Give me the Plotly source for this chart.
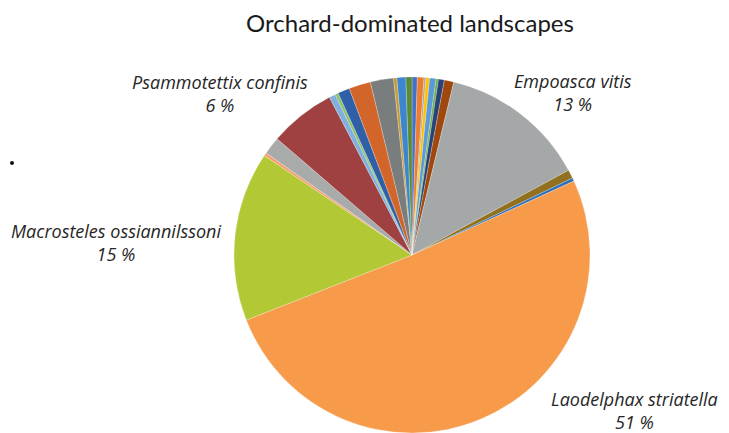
import plotly.graph_objects as go

# ---- data (clockwise from 12 o'clock), percent of individuals ----
species = [
    "Species A", "Species B", "Species C", "Species D", "Species E",
    "Species F", "Species G", "Species H",
    "Empoasca vitis", "Species I", "Species J",
    "Laodelphax striatella", "Macrosteles ossiannilssoni", "Species K",
    "Species L", "Psammotettix confinis", "Species M", "Species N",
    "Species O", "Species P", "Species Q", "Species R", "Species S", "Species T",
]
shares = [
    0.48, 0.60, 0.17, 0.33, 0.58,
    0.22, 0.53, 0.86,
    13.3, 0.78, 0.30,
    50.75, 15.36, 0.28,
    1.60, 6.00, 0.58, 0.28,
    1.08, 1.97, 2.10, 0.30, 0.80, 0.55,
]
colors = [
    "#4472c4", "#ed7d31", "#a5a5a5", "#ffc000", "#5b9bd5",
    "#70ad47", "#264478", "#9e480e",
    "#a5a8a8", "#917020", "#2f70b8",
    "#f79b4b", "#b2c834", "#f4a070",
    "#a9abab", "#9f4141", "#7fb0de", "#8cc168",
    "#2f5fa7", "#d2652a", "#7a7d7d", "#c99a2e", "#3b86cc", "#5a8a39",
]
labelled = ["Psammotettix confinis", "Empoasca vitis",
            "Macrosteles ossiannilssoni", "Laodelphax striatella"]
# label anchor positions (paper fractions, layout only)
label_pos = {
    "Psammotettix confinis": (0.302, 0.784),
    "Empoasca vitis": (0.786, 0.786),
    "Macrosteles ossiannilssoni": (0.159, 0.439),
    "Laodelphax striatella": (0.870, 0.053),
}

W, H = 729, 433
total = sum(shares)

fig = go.Figure(go.Pie(
    labels=species,
    values=shares,
    sort=False,
    direction="clockwise",
    rotation=0,
    marker=dict(colors=colors, line=dict(color="rgba(255,255,255,0.6)", width=0.4)),
    textinfo="none",
    hoverinfo="label+percent",
    domain=dict(x=[0.30, 0.8303], y=[0.0, 1 - 77 / H]),
    showlegend=False,
))

for name in labelled:
    v = shares[species.index(name)]
    x, y = label_pos[name]
    fig.add_annotation(
        x=x, y=y, xref="paper", yref="paper",
        text=f"{name}<br>{round(v / total * 100)} %",
        showarrow=False, align="center",
        xanchor="center", yanchor="middle",
        font=dict(family="Open Sans", size=18, color="#262626", style="italic"),
    )

fig.add_shape(type="circle", xref="paper", yref="paper",
              x0=10 / W, x1=14 / W, y0=1 - 165 / H, y1=1 - 161 / H,
              fillcolor="#111", line=dict(width=0))

fig.update_layout(
    width=W, height=H,
    margin=dict(l=0, r=0, t=0, b=0),
    paper_bgcolor="white", plot_bgcolor="white",
    title=dict(text="Orchard-dominated landscapes", x=410 / W, xanchor="center",
               y=1 - 24 / H, yanchor="middle",
               font=dict(family="Lato", size=24, color="#1a1a1a")),
)

fig.write_html(
    "out.html",
    config={"displayModeBar": False},
    post_script="document.body.style.margin='0';document.body.style.overflow='hidden';",
)
